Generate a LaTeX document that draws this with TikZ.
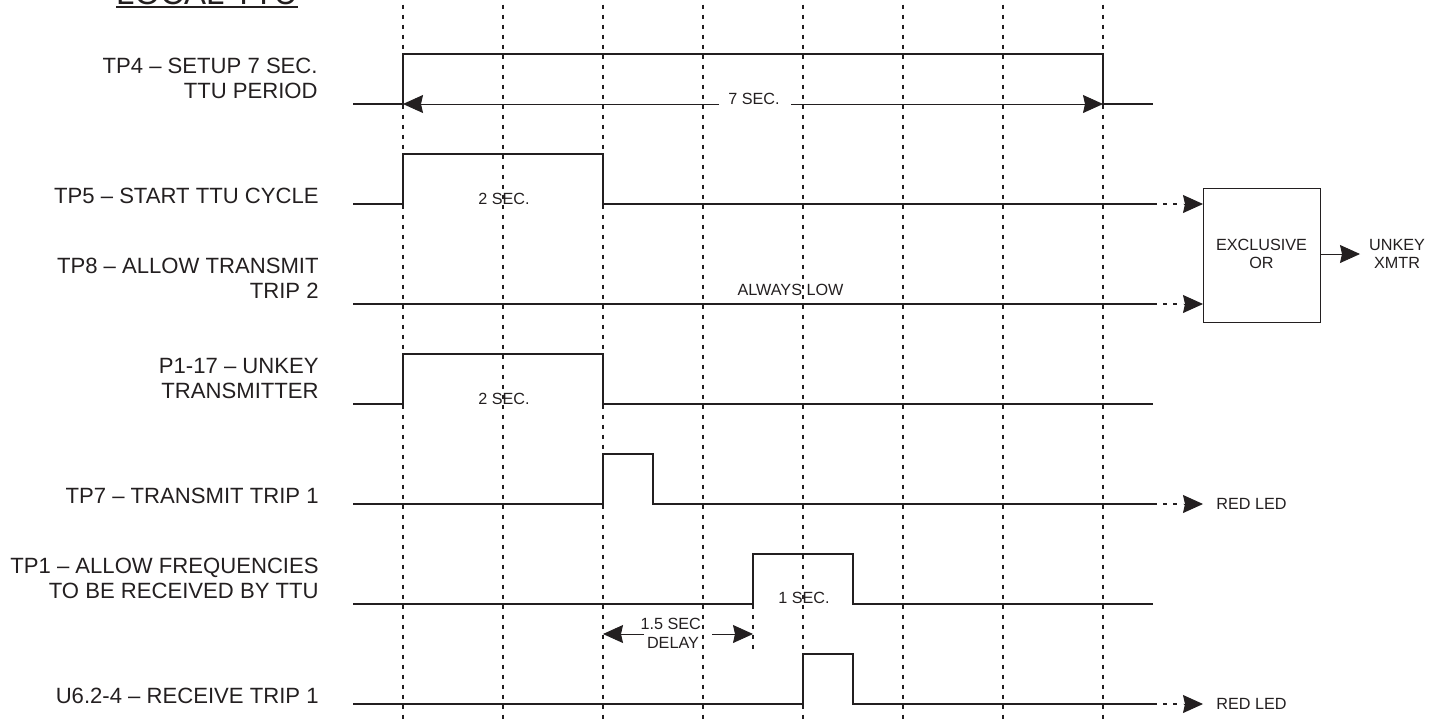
\documentclass[tikz,border=0pt]{standalone}
\usepackage{fontspec}
\setmainfont{Liberation Sans}
\usetikzlibrary{arrows.meta,calc}
\definecolor{ink}{HTML}{231F20}
\tikzset{
  wave/.style={draw=ink,line width=1pt,line join=miter},
  grid/.style={draw=ink,line width=1pt,dash pattern=on 2pt off 3pt},
  ext/.style={draw=ink,line width=1pt,dash pattern=on 2.2pt off 2.8pt},
  head/.style={-{Stealth[length=10pt,width=9pt,inset=1pt]}},
  dim/.style={draw=ink,line width=.45pt,head},
  lab/.style={text=ink,align=right,anchor=east,inner sep=0pt,font=\fontsize{11.05pt}{12.5pt}\selectfont},
  small/.style={text=ink,align=center,inner sep=0pt,font=\fontsize{8.1pt}{9.3pt}\selectfont},
}
\begin{document}
\begin{tikzpicture}[x=0.5pt,y=-0.5pt]
\useasboundingbox (0,0) rectangle (1440,719);
\clip (0,0) rectangle (1440,719);
% grid
\foreach \x in {403,503,603,703,803,903,1003,1103}
  \draw[grid] (\x,-5.5) -- (\x,719);
% title
\node[text=ink,anchor=base,inner sep=0pt,font=\fontsize{16.5pt}{18pt}\selectfont] (title) at (207,4) {LOCAL TTU};
\draw[ink,line width=1pt] (116,7.3) -- (298,7.3);
% labels
\node[lab] (l4) at (318,78) {TP4 – SETUP 7 SEC.\\TTU PERIOD};
\node[lab] (l5) at (319,196) {TP5 – START TTU CYCLE};
\node[lab] (l8) at (319,278) {TP8 – ALLOW TRANSMIT\\TRIP 2};
\node[lab] (l17) at (319,378) {P1-17 – UNKEY\\TRANSMITTER};
\node[lab] (l7) at (319,496) {TP7 – TRANSMIT TRIP 1};
\node[lab] (l1) at (319,578) {TP1 – ALLOW FREQUENCIES\\TO BE RECEIVED BY TTU};
\node[lab] (l6) at (319,696) {U6.2-4 – RECEIVE TRIP 1};
% waveforms
\draw[wave] (353,104) -- (403,104) -- (403,54) -- (1103,54) -- (1103,104) -- (1153,104);
\draw[wave] (353,204) -- (403,204) -- (403,154) -- (603,154) -- (603,204) -- (1157,204);
\draw[wave] (353,304) -- (1157,304);
\draw[wave] (353,404) -- (403,404) -- (403,354) -- (603,354) -- (603,404) -- (1153,404);
\draw[wave] (353,504) -- (603,504) -- (603,454) -- (653,454) -- (653,504) -- (1157,504);
\draw[wave] (353,604) -- (753,604) -- (753,554) -- (853,554) -- (853,604) -- (1153,604);
\draw[wave] (353,704) -- (803,704) -- (803,654) -- (853,654) -- (853,704) -- (1157,704);
\draw[grid] (753,604.5) -- (753,650);
% xor
\node[draw=ink,line width=.55pt,fill=none,minimum width=58.5pt,minimum height=67pt,inner sep=0pt,anchor=north west] (xor) at (1203,188) {};
\node[small] (xt) at (1261.5,254) {EXCLUSIVE\\OR};
\node[small] (xo) at (1397,254) {UNKEY\\XMTR};
\coordinate (a1) at (1163,204);
\coordinate (a2) at (1163,304);
\coordinate (a3) at (1163,504);
\coordinate (a4) at (1163,704);
\coordinate (b1) at (xor.west|-a1);
\coordinate (b2) at (xor.west|-a2);
\coordinate (b3) at (1203,504);
\coordinate (b4) at (1203,704);
\foreach \s/\e in {a1/b1,a2/b2,a3/b3,a4/b4}{
  \draw[ext] (\s) -- ($(\e)+(-20,0)$);
  \draw[draw=ink,line width=.5pt,head] ($(\e)+(-19,0)$) -- (\e);
}
\draw[dim] (xor.east|-xo) -- (1360,254);
\node[small,anchor=west] (r1) at (1216,504) {RED LED};
\node[small,anchor=west] (r2) at (1216,704) {RED LED};
% dimensions
\node[small] (t7) at (754,98.5) {7 SEC.};
\coordinate (d1) at (403,104);
\coordinate (d2) at (1103,104);
\draw[dim] (719,104) -- (d1);
\draw[dim] (791,104) -- (d2);
\node[small] (t2a) at (504,199) {2 SEC.};
\node[small] (t2b) at (504,399) {2 SEC.};
\node[small] (t1) at (804,598) {1 SEC.};
\node[small] (ta) at (790.5,290) {ALWAYS LOW};
\node[small] (tdl) at (673,633.5) {1.5 SEC.\\DELAY};
\coordinate (d3) at (603,634);
\coordinate (d4) at (753,634);
\draw[dim] (644,634) -- (d3);
\draw[dim] (712,634) -- (d4);
\end{tikzpicture}
\end{document}
